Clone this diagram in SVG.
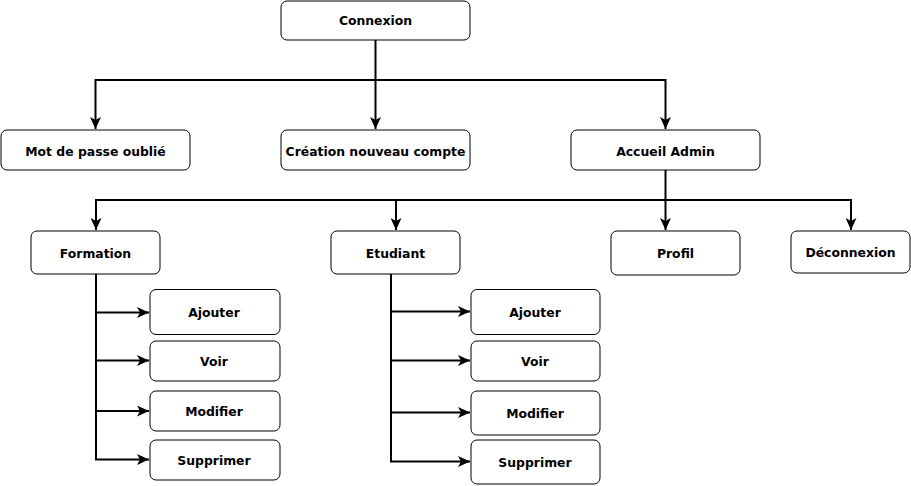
<svg xmlns="http://www.w3.org/2000/svg" width="911" height="486" viewBox="0 0 911 486">
<style>
.box{fill:#fff;stroke:#000;stroke-width:1}
.t{font-family:"DejaVu Sans",Verdana,sans-serif;font-weight:bold;font-size:12.4px;text-anchor:middle;fill:#000}
.c{fill:none;stroke:#000;stroke-width:2}
</style>
<defs>
<marker id="ah" markerUnits="userSpaceOnUse" markerWidth="13" markerHeight="11" refX="12" refY="5.5" orient="auto">
<path d="M0,0 L12,5.5 L0,11 L3,5.5 z" fill="#000"/>
</marker>
</defs>
<rect width="911" height="486" fill="#fff"/>
<g id="connectors">
<path class="c" d="M375.5,40 V80"/>
<path class="c" d="M375.5,80 H95.5 V129" marker-end="url(#ah)"/>
<path class="c" d="M375.5,80 V129" marker-end="url(#ah)"/>
<path class="c" d="M375.5,80 H665.5 V129" marker-end="url(#ah)"/>
<path class="c" d="M665.5,170 V200"/>
<path class="c" d="M665.5,200 H96 V230" marker-end="url(#ah)"/>
<path class="c" d="M665.5,200 H396 V230" marker-end="url(#ah)"/>
<path class="c" d="M665.5,200 V230" marker-end="url(#ah)"/>
<path class="c" d="M665.5,200 H851 V230" marker-end="url(#ah)"/>
<path class="c" d="M96,274 V312.5 H149" marker-end="url(#ah)"/>
<path class="c" d="M96,312.5 V360.5 H149" marker-end="url(#ah)"/>
<path class="c" d="M96,360.5 V411 H149" marker-end="url(#ah)"/>
<path class="c" d="M96,411 V459.5 H149" marker-end="url(#ah)"/>
<path class="c" d="M391,274 V311.5 H470" marker-end="url(#ah)"/>
<path class="c" d="M391,311.5 V360.5 H470" marker-end="url(#ah)"/>
<path class="c" d="M391,360.5 V412.5 H470" marker-end="url(#ah)"/>
<path class="c" d="M391,412.5 V461.5 H470" marker-end="url(#ah)"/>
</g>
<g id="connexion"><rect class="box" x="281" y="1" width="189" height="39" rx="6"/><text class="t" x="375.5" y="25">Connexion</text></g>
<g id="mdp"><rect class="box" x="1" y="130" width="189" height="40" rx="6"/><text class="t" x="95.5" y="156">Mot de passe oublié</text></g>
<g id="creation"><rect class="box" x="281" y="130" width="189" height="40" rx="6"/><text class="t" x="375.5" y="156">Création nouveau compte</text></g>
<g id="accueil"><rect class="box" x="571" y="130" width="189" height="40" rx="6"/><text class="t" x="665.5" y="156">Accueil Admin</text></g>
<g id="formation"><rect class="box" x="31" y="231" width="129" height="43" rx="6"/><text class="t" x="95.5" y="257.5">Formation</text></g>
<g id="etudiant"><rect class="box" x="331" y="231" width="129" height="43" rx="6"/><text class="t" x="395.5" y="257.5">Etudiant</text></g>
<g id="profil"><rect class="box" x="611" y="231" width="129" height="44" rx="6"/><text class="t" x="675.5" y="257.5">Profil</text></g>
<g id="deconnexion"><rect class="box" x="791" y="231" width="119" height="42" rx="6"/><text class="t" x="850.5" y="256.5">Déconnexion</text></g>
<g id="f-ajouter"><rect class="box" x="150" y="289.5" width="130" height="45" rx="6"/><text class="t" x="214" y="316.5">Ajouter</text></g>
<g id="f-voir"><rect class="box" x="150" y="341" width="130" height="40" rx="6"/><text class="t" x="214" y="365.5">Voir</text></g>
<g id="f-modifier"><rect class="box" x="150" y="391" width="130" height="40" rx="6"/><text class="t" x="214" y="415.5">Modifier</text></g>
<g id="f-supprimer"><rect class="box" x="150" y="440" width="130" height="40" rx="6"/><text class="t" x="214" y="464.5">Supprimer</text></g>
<g id="e-ajouter"><rect class="box" x="471" y="289.5" width="129" height="45" rx="6"/><text class="t" x="535" y="316.5">Ajouter</text></g>
<g id="e-voir"><rect class="box" x="471" y="341" width="129" height="40" rx="6"/><text class="t" x="535" y="365.5">Voir</text></g>
<g id="e-modifier"><rect class="box" x="471" y="391" width="129" height="44" rx="6"/><text class="t" x="535" y="417.5">Modifier</text></g>
<g id="e-supprimer"><rect class="box" x="471" y="440" width="129" height="44" rx="6"/><text class="t" x="535" y="466.5">Supprimer</text></g>
</svg>
